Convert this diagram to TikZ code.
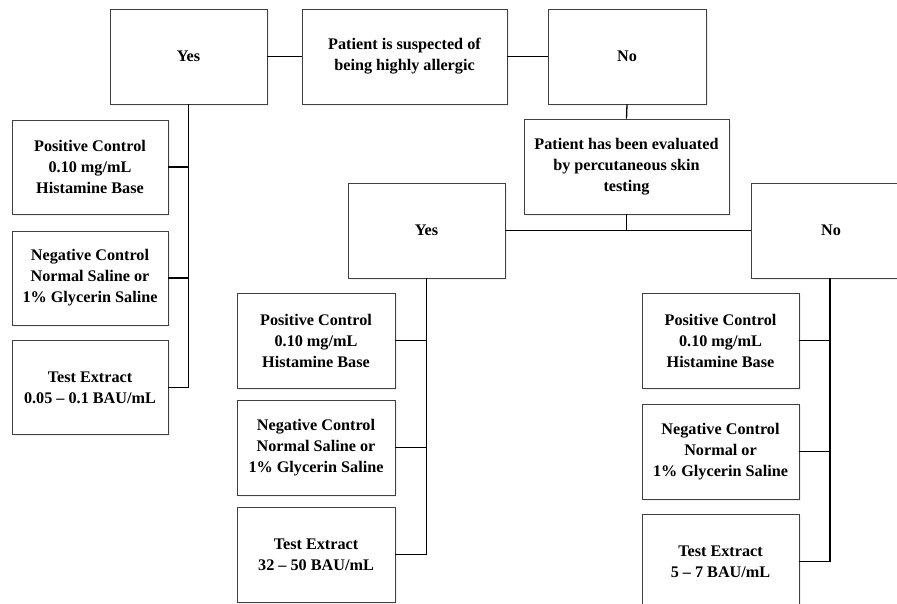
\documentclass[tikz,border=0pt]{standalone}
\usepackage{fontspec}
\setmainfont{Liberation Serif}
\usetikzlibrary{shadows}
\tikzset{
  box/.style={draw=black!75, line width=0.8pt, fill=white, align=center, inner sep=0pt,
    font=\fontsize{16.2}{21}\selectfont\bfseries,
    drop shadow={opacity=0.12, shadow xshift=1.5pt, shadow yshift=-1.5pt}},
  conn/.style={draw=black, line width=1.3pt}
}
\begin{document}
\begin{tikzpicture}[x=1pt,y=-1pt]
\useasboundingbox (0,0) rectangle (897,603);
\clip (0,0) rectangle (897,603);
% top row
\node[box, minimum width=157pt, minimum height=95pt] (yes1) at (188.5,56.5) {Yes};
\node[box, minimum width=205pt, minimum height=95pt] (pat) at (404.5,56.5) {Patient is suspected of\\being highly allergic};
\node[box, minimum width=158pt, minimum height=95pt] (no1) at (627,56.5) {No};
% left column
\node[box, minimum width=156pt, minimum height=94pt] (L1) at (90,167) {Positive Control\\0.10 mg/mL\\Histamine Base};
\node[box, minimum width=156pt, minimum height=94pt] (L2) at (90,278) {Negative Control\\Normal Saline or\\1\% Glycerin Saline};
\node[box, minimum width=156pt, minimum height=94pt] (L3) at (90,387.5) {Test Extract\\0.05 -- 0.1 BAU/mL};
% evaluation
\node[box, minimum width=205pt, minimum height=95pt] (eval) at (626.5,166.5) {Patient has been evaluated\\by percutaneous skin\\testing};
\node[box, minimum width=157pt, minimum height=95pt] (yes2) at (426.5,230.5) {Yes};
\node[box, minimum width=160pt, minimum height=95pt] (no2) at (831,230.5) {No};
% middle column
\node[box, minimum width=158pt, minimum height=95pt] (M1) at (316,340.5) {Positive Control\\0.10 mg/mL\\Histamine Base};
\node[box, minimum width=158pt, minimum height=95pt] (M2) at (316,447.5) {Negative Control\\Normal Saline or\\1\% Glycerin Saline};
\node[box, minimum width=158pt, minimum height=95pt] (M3) at (316,554.5) {Test Extract\\32 -- 50 BAU/mL};
% right column
\node[box, minimum width=157pt, minimum height=95pt] (R1) at (720.5,340.5) {Positive Control\\0.10 mg/mL\\Histamine Base};
\node[box, minimum width=157pt, minimum height=95pt] (R2) at (720.5,451.5) {Negative Control\\Normal or\\1\% Glycerin Saline};
\node[box, minimum width=157pt, minimum height=95pt] (R3) at (720.5,561.5) {Test Extract\\5 -- 7 BAU/mL};
% connectors
\draw[conn] (yes1.east) -- (pat.west);
\draw[conn] (pat.east) -- (no1.west);
\draw[conn] (yes1.south) |- (L3.east);
\draw[conn] (L1.east) -- (L1.east -| yes1.south);
\draw[conn] (L2.east) -- (L2.east -| yes1.south);
\draw[conn] (no1.south) -- (eval.north);
\draw[conn] (eval.south) -- (eval.south |- yes2.east);
\draw[conn] (yes2.east) -- (no2.west);
\draw[conn] (yes2.south) |- (M3.east);
\draw[conn] (M1.east) -- (M1.east -| yes2.south);
\draw[conn] (M2.east) -- (M2.east -| yes2.south);
\coordinate (nd) at ([xshift=-1pt]no2.south);
\draw[conn] (nd) |- (R3.east);
\draw[conn] (R1.east) -- (R1.east -| nd);
\draw[conn] (R2.east) -- (R2.east -| nd);
\end{tikzpicture}
\end{document}
